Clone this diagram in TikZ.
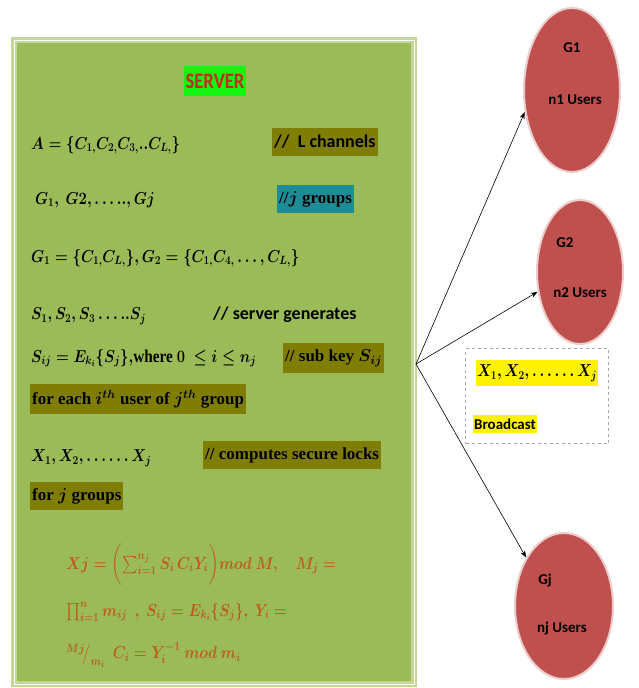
\documentclass[tikz,border=0pt]{standalone}
\usepackage{amsmath}
\usepackage{fontspec}
\usepackage{graphicx}
\setmainfont{Liberation Serif}
\newfontfamily\calibrifont{Carlito}
\usetikzlibrary{arrows.meta,positioning,shapes.geometric}
\definecolor{BoxGreen}{RGB}{155,187,89}
\definecolor{BoxEdge}{RGB}{196,215,155}
\definecolor{OliveHi}{RGB}{128,125,5}
\definecolor{TealHi}{RGB}{30,140,150}
\definecolor{ServerGreen}{RGB}{20,245,20}
\definecolor{ServerRed}{RGB}{195,45,30}
\definecolor{UserRed}{RGB}{192,80,77}
\definecolor{UserEdge}{RGB}{235,205,205}
\definecolor{LockBrown}{RGB}{190,92,25}
\definecolor{DashGray}{RGB}{170,170,170}
\newcommand{\narrow}[1]{\scalebox{0.85}[1]{#1}}
\tikzset{
  mathline/.style={anchor=west,inner sep=1pt,font=\fontsize{18}{22}\selectfont\boldmath},
  olivehl/.style={anchor=west,fill=OliveHi,inner xsep=2pt,inner ysep=7pt,text=black,
    font=\fontsize{17}{20}\selectfont\bfseries\boldmath},
  calnote/.style={anchor=west,inner sep=1pt,font=\fontsize{18}{20}\calibrifont\bfseries},
  lockline/.style={anchor=west,inner sep=1pt,text=LockBrown,
    font=\fontsize{18}{22}\selectfont\boldmath},
  usergroup/.style={ellipse,fill=UserRed,draw=UserEdge,line width=2pt,inner sep=0pt},
  usertxt/.style={inner sep=1pt,font=\fontsize{15}{18}\calibrifont\bfseries},
  arrow/.style={-{Stealth[length=7pt,width=5pt]},semithick,black}
}

\begin{document}
\begin{tikzpicture}[x=1pt,y=-1pt]
  \useasboundingbox (0,0) rectangle (639,688);
  % server box
  \draw[BoxEdge,line width=3pt,fill=BoxGreen,double=white,double distance=0.8pt]
    (14,40) rectangle (414,684);
  \node[fill=ServerGreen,text=ServerRed,inner xsep=2pt,inner ysep=8pt,
    font=\fontsize{22}{24}\calibrifont\bfseries] (server) at (215,81) {\narrow{SERVER}};

  \node[mathline] (chans) at (30,145)
    {\narrow{$A=\left\{C_{1,}C_{2,}C_{3,}..C_{L,}\right\}$}};
  \node[olivehl,font=\fontsize{18}{22}\calibrifont\bfseries] (chansnote) at (272,142)
    {//~~L channels};
  \node[mathline] (groups) at (34,200) {\narrow{$G_1,\ G2,\ldots..,Gj$}};
  \node[olivehl,fill=TealHi,inner ysep=6pt] (groupsnote) at (277,199) {//$j$ groups};
  \node[mathline] (members) at (30,258)
    {\narrow{$G_1=\left\{C_{1,}C_{L,}\right\}\!,G_2=\left\{C_{1,}C_{4,}\ldots,C_{L,}\right\}$}};
  \node[mathline] (seeds) at (30,316) {\narrow{$S_1,S_2,S_3\ldots..S_j$}};
  \node[calnote] (seedsnote) at (212,315) {// server generates};
  \node[mathline] (subkey) at (30,358)
    {\narrow{$S_{ij}=E_{k_i}\!\left\{S_j\right\}\!,$\textbf{where}~$0\ \le i\le n_j$}};
  \node[olivehl] (subkeynote) at (283,358) {// sub key $S_{ij}$};
  \node[olivehl,inner ysep=6pt] (subkeyfor) at (30,399)
    {for each $i^{th}$ user of $j^{th}$ group};
  \node[mathline] (locks) at (30,458) {\narrow{$X_1,X_2,\ldots\ldots X_j$}};
  \node[olivehl,inner ysep=6pt] (locksnote) at (203,455) {// computes secure locks};
  \node[olivehl,inner ysep=6pt] (locksfor) at (30,496) {for $j$ groups};

  \node[lockline] (lockA) at (65,565)
    {\narrow{$Xj=\biggl(\textstyle\sum_{i=1}^{n_j}S_i\,C_iY_i\biggr)mod\ M,\quad M_j=$}};
  \node[lockline] (lockB) at (65,612)
    {\narrow{$\textstyle\prod_{i=1}^{n}m_{ij}\ \ ,\ S_{ij}=E_{k_i}\!\left\{S_j\right\}\!,\ Y_i=$}};
  \node[lockline] (lockC) at (65,655)
    {\narrow{$^{Mj}\!\big/_{m_i}\ \ C_i=Y_i^{-1}\ mod\ m_i$}};

  % user groups
  \node[usergroup,minimum width=96pt,minimum height=164pt] (g1) at (572,90) {};
  \node[usergroup,minimum width=86pt,minimum height=144pt] (g2) at (580,272) {};
  \node[usergroup,minimum width=98pt,minimum height=146pt] (gj) at (564,606) {};
  \node[usertxt] (g1name) at (572,48) {G1};
  \node[usertxt] (g1users) at (575,100) {n1 Users};
  \node[usertxt] (g2name) at (565,243) {G2};
  \node[usertxt] (g2users) at (580,293) {n2 Users};
  \node[usertxt] (gjname) at (545,580) {Gj};
  \node[usertxt] (gjusers) at (562,628) {nj Users};

  % broadcast
  \node[draw=DashGray,dashed,thick,minimum width=143pt,minimum height=95pt]
    (bcast) at (537,396) {};
  \node[fill=yellow,inner xsep=1pt,inner ysep=5pt,font=\fontsize{17}{20}\selectfont\boldmath]
    (bcastlocks) at (537,373) {\narrow{$X_1,X_2,\ldots\ldots X_j$}};
  \node[fill=yellow,inner xsep=1pt,inner ysep=4pt,font=\fontsize{15}{18}\calibrifont\bfseries]
    (bcastname) at (505,424) {Broadcast};

  \coordinate (hub) at (416,364);
  \draw[arrow] (hub) -- (g1.205);
  \draw[arrow] (hub) -- (g2.205);
  \draw[arrow] (hub) -- (gj.128);
\end{tikzpicture}
\end{document}
